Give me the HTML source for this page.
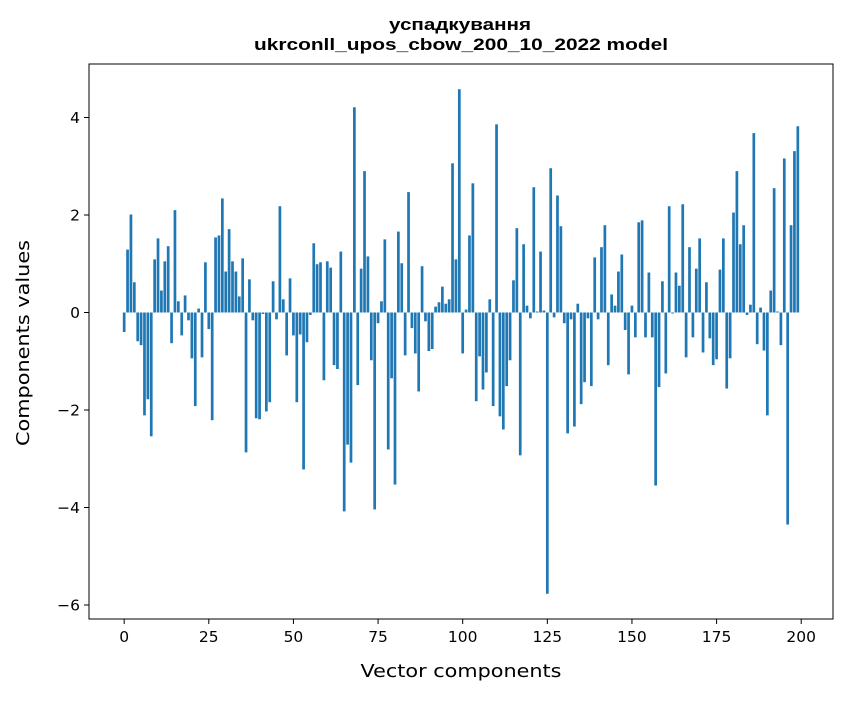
<!DOCTYPE html>
<html><head><meta charset="utf-8"><style>
body{margin:0;background:#fff;}
svg text{font-family:"DejaVu Sans","Liberation Sans",sans-serif;fill:#000;}
svg text.ttl{font-family:"Liberation Sans",sans-serif;font-weight:bold;}
</style></head><body>
<svg id="chart" width="847" height="696" xmlns="http://www.w3.org/2000/svg">
<rect width="847" height="696" fill="#fff"/>
<text class="ttl" x="460" y="30" text-anchor="middle" font-size="16.5" textLength="142" lengthAdjust="spacingAndGlyphs">успадкування</text>
<text class="ttl" x="461" y="50" text-anchor="middle" font-size="16.5" textLength="414" lengthAdjust="spacingAndGlyphs">ukrconll_upos_cbow_200_10_2022 model</text>
<g id="bars"></g>
<g id="xticks"></g>
<g id="yticks"></g>
<rect x="89" y="64" width="744" height="555" fill="none" stroke="#000" stroke-width="1"/>
<text x="461" y="677" text-anchor="middle" font-size="18" textLength="201" lengthAdjust="spacingAndGlyphs">Vector components</text>
<text transform="translate(29,343) rotate(-90)" text-anchor="middle" font-size="18" textLength="206" lengthAdjust="spacingAndGlyphs">Components values</text>
</svg>
<script>
const values = [-0.40,1.29,2.01,0.62,-0.59,-0.67,-2.11,-1.78,-2.54,1.09,
1.52,0.45,1.05,1.36,-0.63,2.10,0.23,-0.47,0.35,-0.16,
-0.94,-1.92,0.08,-0.92,1.03,-0.34,-2.21,1.54,1.58,2.34,
0.84,1.71,1.05,0.84,0.33,1.11,-2.87,0.68,-0.16,-2.17,
-2.19,-0.03,-2.03,-1.84,0.64,-0.14,2.18,0.27,-0.88,0.70,
-0.47,-1.84,-0.45,-3.22,-0.61,-0.05,1.42,0.99,1.03,-1.39,
1.05,0.92,-1.08,-1.16,1.25,-4.08,-2.71,-3.08,4.21,-1.49,
0.90,2.90,1.15,-0.98,-4.04,-0.22,0.23,1.50,-2.81,-1.35,
-3.53,1.66,1.01,-0.88,2.47,-0.32,-0.84,-1.62,0.95,-0.18,
-0.79,-0.75,0.12,0.21,0.53,0.18,0.27,3.06,1.09,4.58,
-0.84,0.06,1.58,2.65,-1.82,-0.90,-1.58,-1.23,0.27,-1.92,
3.86,-2.13,-2.40,-1.51,-0.98,0.66,1.73,-2.93,1.40,0.14,
-0.12,2.57,0.02,1.25,0.04,-5.77,2.96,-0.10,2.40,1.77,
-0.22,-2.48,-0.14,-2.34,0.18,-1.88,-1.43,-0.12,-1.51,1.13,
-0.14,1.34,1.79,-1.08,0.37,0.14,0.84,1.19,-0.36,-1.27,
0.14,-0.51,1.85,1.89,-0.51,0.82,-0.51,-3.55,-1.53,0.64,
-1.25,2.18,-0.02,0.82,0.55,2.22,-0.92,1.34,-0.51,0.90,
1.52,-0.82,0.62,-0.53,-1.08,-0.96,0.88,1.52,-1.56,-0.94,
2.05,2.90,1.40,1.79,-0.05,0.16,3.68,-0.65,0.10,-0.78,
-2.11,0.45,2.55,0.02,-0.67,3.16,-4.35,1.79,3.31,3.82];
const xTickLabels = [0,25,50,75,100,125,150,175,200];
const yTickLabels = [-6,-4,-2,0,2,4];

const NS = "http://www.w3.org/2000/svg";
const L=89,R=833,T=64,B=619;
const n=values.length;
const xmin0=-0.4, xmax0=n-1+0.4, xm=(xmax0-xmin0)*0.05;
const xlo=xmin0-xm, xhi=xmax0+xm;
const vmin=Math.min(0,...values), vmax=Math.max(0,...values), ym=(vmax-vmin)*0.05;
const ylo=vmin-ym, yhi=vmax+ym;
function X(v){return L+(v-xlo)/(xhi-xlo)*(R-L);}
function Y(v){return B-(v-ylo)/(yhi-ylo)*(B-T);}
const gb=document.getElementById('bars');
values.forEach((v,i)=>{
  const r=document.createElementNS(NS,'rect');
  const x0=X(i-0.4), x1=X(i+0.4), y0=Y(Math.max(v,0)), y1=Y(Math.min(v,0));
  r.setAttribute('x',x0); r.setAttribute('width',x1-x0);
  r.setAttribute('y',y0); r.setAttribute('height',Math.max(y1-y0,0.3));
  r.setAttribute('fill','#1f77b4');
  
  
  gb.appendChild(r);
});
const gx=document.getElementById('xticks');
xTickLabels.forEach(t=>{
  const x=X(t);
  const l=document.createElementNS(NS,'line');
  l.setAttribute('x1',x);l.setAttribute('x2',x);l.setAttribute('y1',B);l.setAttribute('y2',B+5);
  l.setAttribute('stroke','#000');
  
  
  gx.appendChild(l);
  const tx=document.createElementNS(NS,'text');
  tx.setAttribute('x',x);tx.setAttribute('y',B+23);tx.setAttribute('text-anchor','middle');tx.setAttribute('font-size','15.5');
  tx.textContent=t;
  
  
  gx.appendChild(tx);
});
const gy=document.getElementById('yticks');
yTickLabels.forEach(t=>{
  const y=Y(t);
  const l=document.createElementNS(NS,'line');
  l.setAttribute('x1',L-5);l.setAttribute('x2',L);l.setAttribute('y1',y);l.setAttribute('y2',y);
  l.setAttribute('stroke','#000');
  
  
  gy.appendChild(l);
  const tx=document.createElementNS(NS,'text');
  tx.setAttribute('x',L-9);tx.setAttribute('y',y+5.5);tx.setAttribute('text-anchor','end');tx.setAttribute('font-size','15.5');
  tx.textContent=(t<0?'\u2212'+(-t):t);
  
  
  gy.appendChild(tx);
});
</script>
</body></html>
